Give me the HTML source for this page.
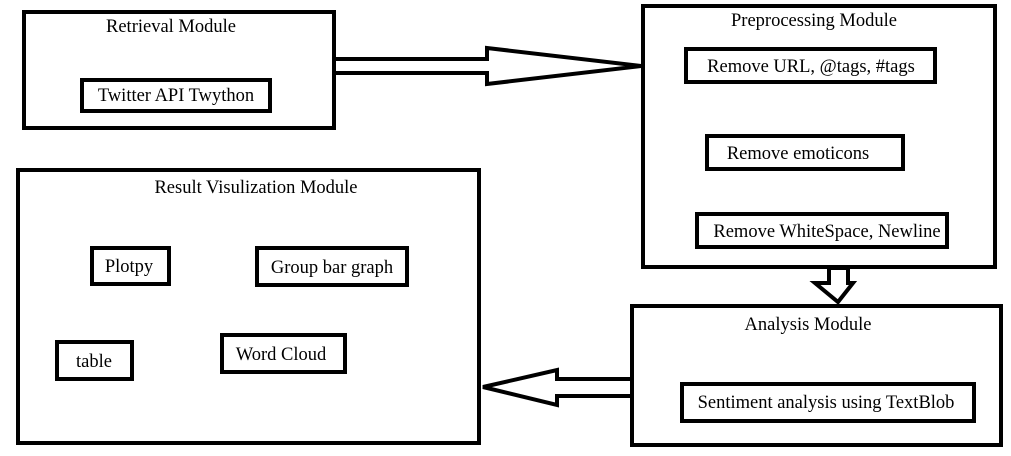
<!DOCTYPE html>
<html><head><style>body{margin:0;background:#fff}</style></head><body>
<svg width="1011" height="456" xmlns="http://www.w3.org/2000/svg" style="display:block;font-family:'Liberation Serif',serif;font-size:18.5px">
<rect width="1011" height="456" fill="#fff"/>
<g fill="none" stroke="#000" stroke-width="4">
<rect x="24" y="12" width="310" height="116"/>
<rect x="82" y="80" width="188" height="31"/>
<rect x="643" y="6" width="352" height="261"/>
<rect x="686" y="49" width="249" height="33"/>
<rect x="707" y="136" width="196" height="33"/>
<rect x="697" y="214" width="250" height="33"/>
<rect x="18" y="170" width="461" height="273"/>
<rect x="92" y="248" width="77" height="36"/>
<rect x="257" y="248" width="150" height="37"/>
<rect x="57" y="342" width="75" height="37"/>
<rect x="222" y="335" width="123" height="37"/>
<rect x="632" y="306" width="369" height="139"/>
<rect x="682" y="384" width="292" height="37"/>
<polygon points="334,59 487,59 487,48 641,66 487,84 487,73 334,73" stroke-linejoin="miter"/>
<polygon points="829,268 848,268 848,283 853,283 838,302 815,283 829,283" />
<polygon points="632,379 557,379 557,370 483,387 557,405 557,396 632,396"/>
</g>
<g fill="#000">
<text x="171" y="32" text-anchor="middle">Retrieval Module</text>
<text x="176" y="101" text-anchor="middle">Twitter API Twython</text>
<text x="814" y="26" text-anchor="middle">Preprocessing Module</text>
<text x="811" y="72" text-anchor="middle">Remove URL, @tags, #tags</text>
<text x="798" y="159" text-anchor="middle">Remove emoticons</text>
<text x="827" y="237" text-anchor="middle">Remove WhiteSpace, Newline</text>
<text x="256" y="193" text-anchor="middle">Result Visulization Module</text>
<text x="129" y="272" text-anchor="middle">Plotpy</text>
<text x="332" y="273" text-anchor="middle">Group bar graph</text>
<text x="94" y="367" text-anchor="middle">table</text>
<text x="281" y="360" text-anchor="middle">Word Cloud</text>
<text x="808" y="330" text-anchor="middle">Analysis Module</text>
<text x="826" y="408" text-anchor="middle">Sentiment analysis using TextBlob</text>
</g>
</svg>
</body></html>
